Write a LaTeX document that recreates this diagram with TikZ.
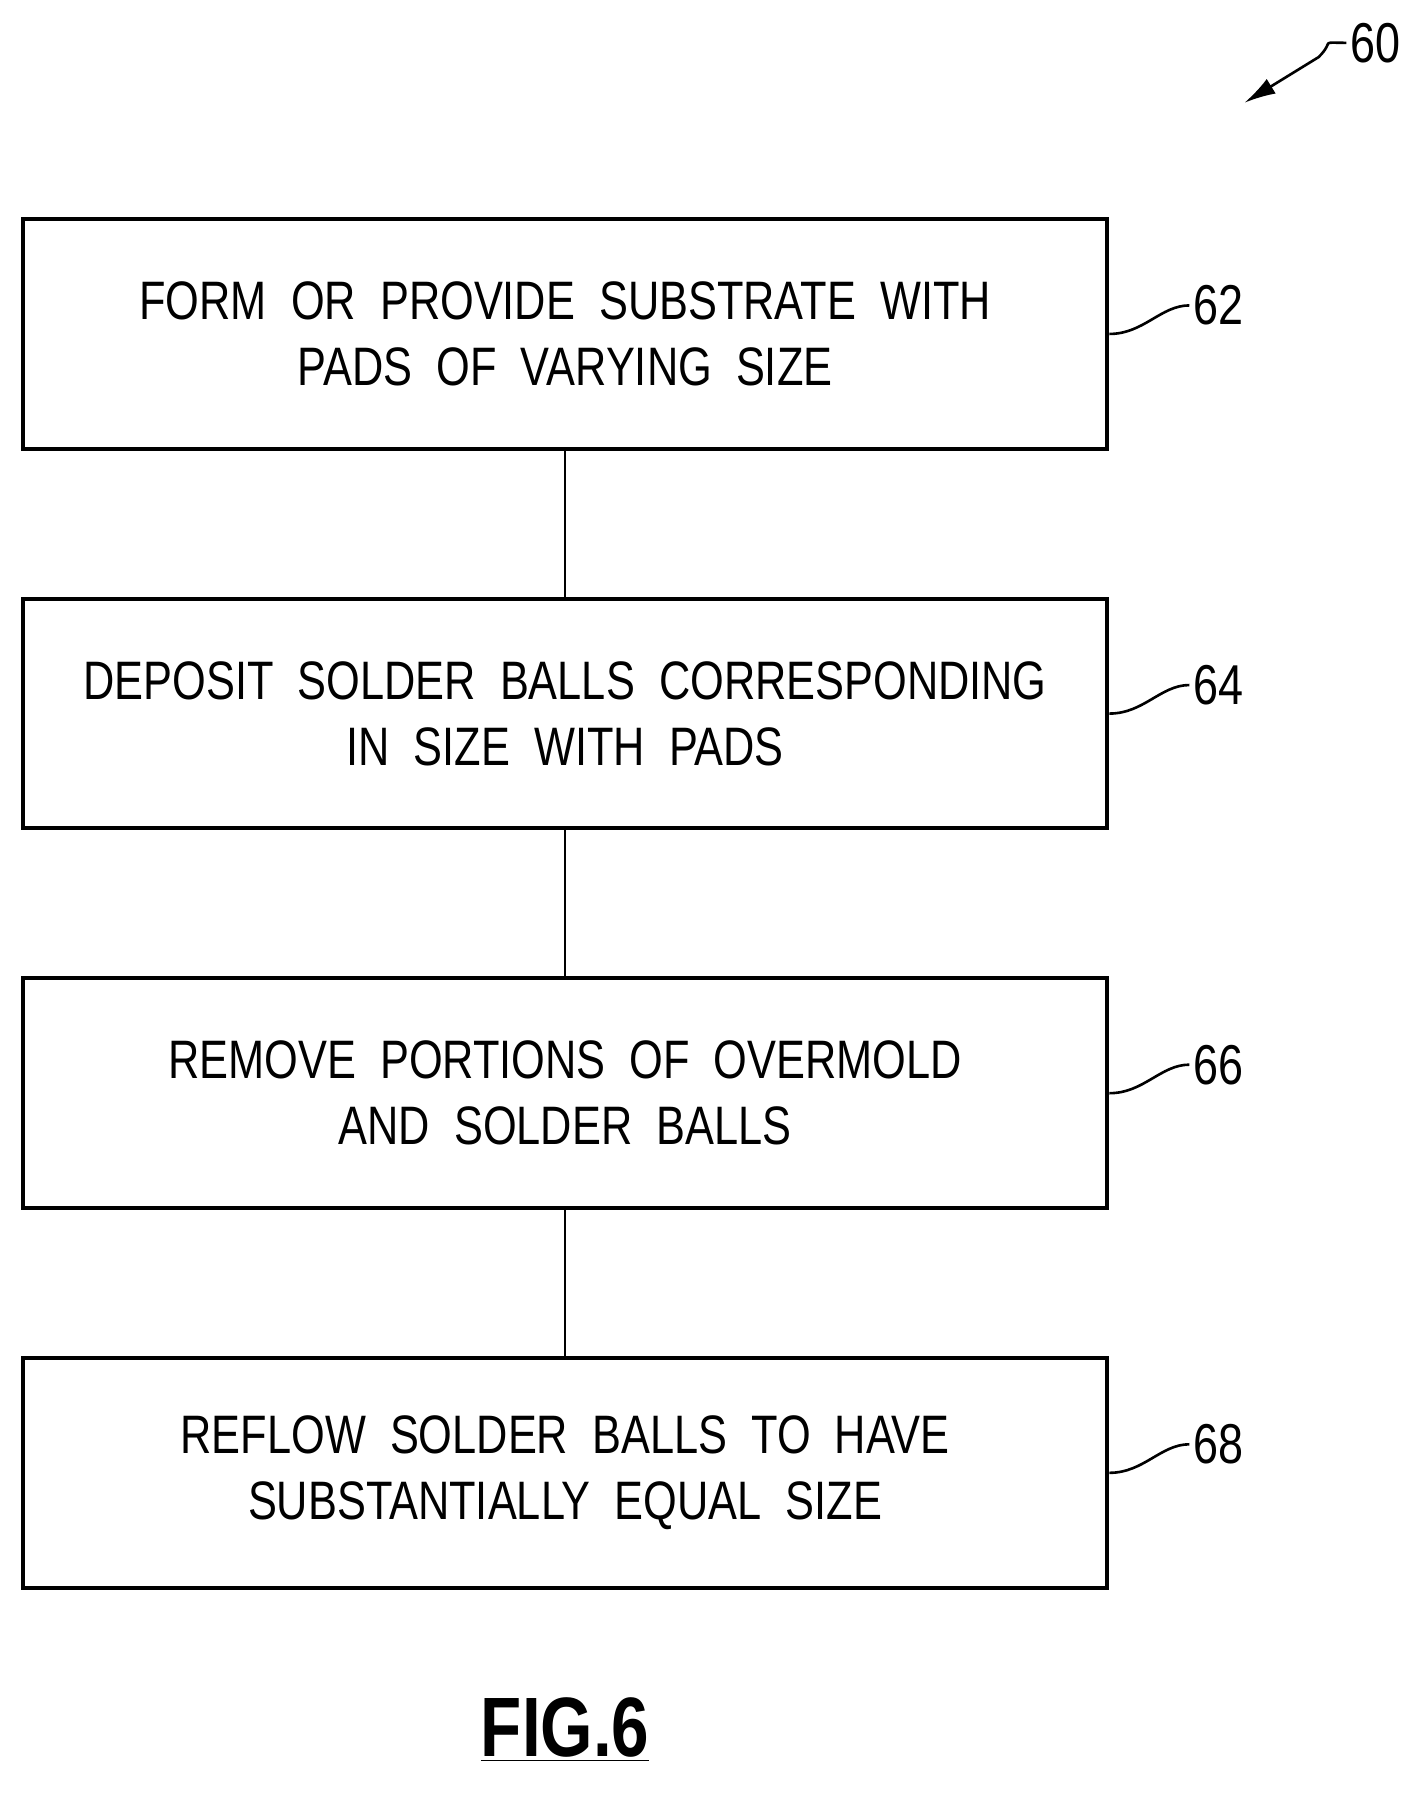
\documentclass[tikz,border=0pt]{standalone}
\usepackage{fontspec}
\setmainfont{Liberation Sans}[FakeStretch=0.8]
\usetikzlibrary{arrows.meta, positioning}
\tikzset{stepbox/.style={draw, line width=2pt, minimum width=19cm, minimum height=4.02cm, align=center, font=\fontsize{27}{33}\selectfont},
         leader/.style={line width=1.3pt}}
\begin{document}
\begin{tikzpicture}[node distance=2.56cm, every node/.style={inner sep=2pt}]
\useasboundingbox (0,0) rectangle (25,-31.48);
\node[stepbox] (s62) at (9.9,-5.85) {FORM\ \ OR\ \ PROVIDE\ \ SUBSTRATE\ \ WITH\\PADS\ \ OF\ \ VARYING\ \ SIZE};
\node[stepbox, below=of s62] (s64) {DEPOSIT\ \ SOLDER\ \ BALLS\ \ CORRESPONDING\\IN\ \ SIZE\ \ WITH\ \ PADS};
\node[stepbox, below=of s64] (s66) {REMOVE\ \ PORTIONS\ \ OF\ \ OVERMOLD\\AND\ \ SOLDER\ \ BALLS};
\node[stepbox, below=of s66] (s68) {REFLOW\ \ SOLDER\ \ BALLS\ \ TO\ \ HAVE\\SUBSTANTIALLY\ \ EQUAL\ \ SIZE};
\draw[leader] (s62) -- (s64);
\draw[leader] (s64) -- (s66);
\draw[leader] (s66) -- (s68);
% reference numerals
\foreach \s/\n in {s62/62, s64/64, s66/66, s68/68}{
  \node[font=\fontsize{28}{34}\selectfont, anchor=west] (n\n) at ([xshift=1.4cm,yshift=0.5cm]\s.east) {\n};
  \draw[leader] (\s.east) .. controls +(0.6,0) and +(-0.5,0) .. (n\n.west);
}
\node[font=\fontsize{28}{34}\selectfont] (n60) at (24.1,-0.75) {60};
\coordinate (a60) at (21.8,-1.8);
\draw[leader, -{Latex[length=0.55cm, width=0.3cm]}] (n60.west) .. controls +(-0.5,0) and +(0.3,0.3) .. (23.1,-1.0) -- (a60);
\node[font=\bfseries\fontsize{42}{50}\selectfont] (fig) at (9.9,-30.3) {\underline{FIG.6}};
\end{tikzpicture}
\end{document}
